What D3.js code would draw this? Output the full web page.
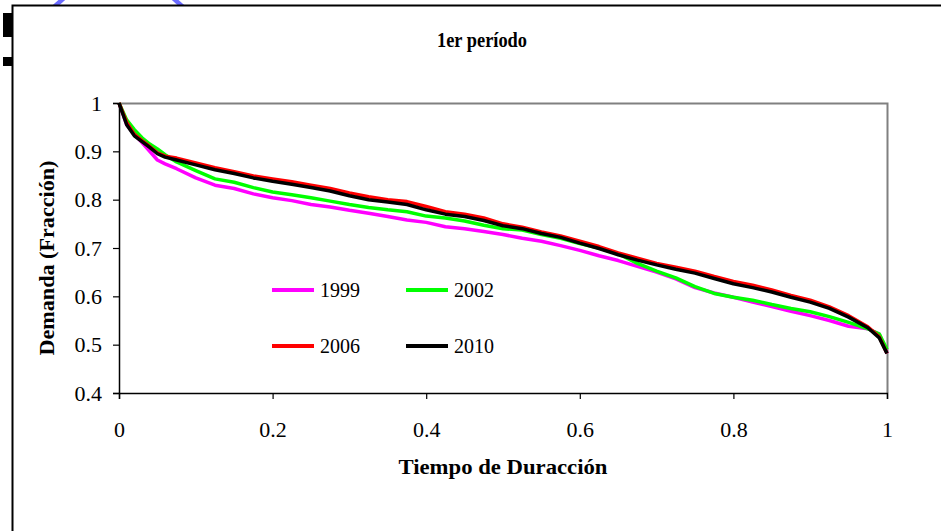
<!DOCTYPE html>
<html><head><meta charset="utf-8">
<script src="https://cdn.jsdelivr.net/npm/d3@7"></script>
<style>html,body{margin:0;padding:0;background:#fff;}svg{display:block;}
svg text{font-family:"Liberation Serif","Times New Roman",Tinos,"DejaVu Serif",serif;}</style>
</head><body>
<div id="chart"></div>
<script>
const title = "1er período";
const xTitle = "Tiempo de Duracción";
const yTitle = "Demanda (Fracción)";
const xTicks = [0, 0.2, 0.4, 0.6, 0.8, 1];
const yTicks = [0.4, 0.5, 0.6, 0.7, 0.8, 0.9, 1];
const t = [0,0.01,0.02,0.03,0.04,0.05,0.06,0.075,0.1,0.125,0.15,0.175,0.2,0.225,0.25,0.275,0.3,0.325,0.35,0.375,0.4,0.425,0.45,0.475,0.5,0.525,0.55,0.575,0.6,0.625,0.65,0.675,0.7,0.725,0.75,0.775,0.8,0.825,0.85,0.875,0.9,0.925,0.95,0.975,0.99,1];
const y1999 = [1.0,0.955,0.935,0.918,0.900,0.882,0.874,0.864,0.845,0.830,0.823,0.812,0.804,0.798,0.790,0.785,0.778,0.772,0.765,0.758,0.753,0.744,0.740,0.734,0.728,0.720,0.714,0.705,0.695,0.684,0.674,0.662,0.650,0.636,0.618,0.607,0.598,0.588,0.579,0.569,0.560,0.550,0.538,0.533,0.522,0.482];
const y2002 = [1.0,0.965,0.945,0.928,0.915,0.905,0.893,0.878,0.860,0.843,0.836,0.825,0.816,0.810,0.804,0.797,0.790,0.784,0.779,0.775,0.766,0.762,0.756,0.747,0.740,0.737,0.728,0.720,0.709,0.700,0.688,0.668,0.652,0.638,0.620,0.606,0.598,0.592,0.583,0.575,0.568,0.558,0.546,0.533,0.522,0.490];
const y2006 = [1.0,0.960,0.935,0.922,0.910,0.897,0.890,0.886,0.876,0.866,0.858,0.849,0.843,0.837,0.830,0.823,0.814,0.806,0.800,0.796,0.786,0.775,0.770,0.762,0.750,0.743,0.733,0.725,0.714,0.703,0.690,0.679,0.668,0.660,0.652,0.641,0.631,0.623,0.613,0.602,0.592,0.578,0.560,0.537,0.516,0.482];
const y2010 = [1.0,0.955,0.932,0.920,0.908,0.895,0.888,0.882,0.872,0.862,0.854,0.845,0.838,0.832,0.825,0.818,0.808,0.800,0.795,0.790,0.779,0.770,0.765,0.757,0.746,0.740,0.730,0.722,0.710,0.699,0.686,0.675,0.665,0.656,0.648,0.637,0.626,0.618,0.609,0.598,0.588,0.575,0.557,0.535,0.514,0.482];
const seriesNames = ["1999","2002","2006","2010"];
const seriesColors = ["#ff00ff","#00ff00","#ff0000","#000000"];
const seriesValues = [y1999, y2002, y2006, y2010];

const W = 941, H = 531;
const svg = d3.select("#chart").append("svg").attr("width", W).attr("height", H);

// decorations outside the frame
svg.append("path").attr("d","M64,-2 L54,7").attr("stroke","#6b6bff").attr("stroke-width",4.5).attr("fill","none");
svg.append("path").attr("d","M173,-2 L183,7").attr("stroke","#6b6bff").attr("stroke-width",4.5).attr("fill","none");
svg.append("rect").attr("x",3).attr("y",13).attr("width",9).attr("height",24).attr("fill","#000");
svg.append("rect").attr("x",3).attr("y",57).attr("width",9).attr("height",9).attr("fill","#000");
// outer frame
svg.append("rect").attr("x",12.5).attr("y",5.5).attr("width",W).attr("height",H).attr("fill","#fff").attr("stroke","#000").attr("stroke-width",2);

const L = 119, R = 887, T = 103, B = 393;
const x = d3.scaleLinear().domain([0,1]).range([L,R]);
const y = d3.scaleLinear().domain([0.4,1]).range([B,T]);

// plot box (top/right gray)
svg.append("path").attr("d",`M${L},${T+0.5} H${R+0.5} V${B}`).attr("stroke","#808080").attr("stroke-width",2).attr("fill","none");

const series = seriesNames.map((n,i)=>({name:n,color:seriesColors[i],pts:t.map((tv,j)=>[tv,seriesValues[i][j]])}));
const line = d3.line().x(d=>x(d[0])).y(d=>y(d[1]));
series.forEach(s=>{
  svg.append("path").datum(s.pts).attr("d",line).attr("fill","none").attr("stroke",s.color).attr("stroke-width",3.5).attr("stroke-linejoin","round");
});

// axes
const yAxis = d3.axisLeft(y).tickValues(yTicks).tickSize(6).tickPadding(11).tickFormat(d=>d3.format("")(d));
const gy = svg.append("g").attr("transform",`translate(${L},0)`).call(yAxis);
const xAxis = d3.axisBottom(x).tickValues(xTicks).tickSize(6).tickPadding(22).tickFormat(d=>d3.format("")(d));
const gx = svg.append("g").attr("transform",`translate(0,${B})`).call(xAxis);
[gx,gy].forEach(g=>{
  g.attr("font-family",null);
  g.select(".domain").attr("stroke","#000").attr("stroke-width",1.5);
  g.selectAll(".tick line").attr("stroke","#000").attr("stroke-width",1.2);
  g.selectAll("text").attr("font-size",22).attr("fill","#000");
});
gy.selectAll("text").attr("dy","0.32em");

// titles
svg.append("text").attr("x",482).attr("y",47).attr("text-anchor","middle").attr("font-weight","bold").attr("font-size",20).attr("textLength",90).attr("lengthAdjust","spacingAndGlyphs").text(title);
svg.append("text").attr("x",503).attr("y",474).attr("text-anchor","middle").attr("font-weight","bold").attr("font-size",20).attr("textLength",209).attr("lengthAdjust","spacingAndGlyphs").text(xTitle);
svg.append("text").attr("transform","translate(54,258) rotate(-90)").attr("text-anchor","middle").attr("font-weight","bold").attr("font-size",20).attr("textLength",195).attr("lengthAdjust","spacingAndGlyphs").text(yTitle);

// legend
const legPos = [[272,290],[406,290],[272,346],[406,346]];
series.forEach((s,i)=>{
  const [lx,ly] = legPos[i];
  svg.append("line").attr("x1",lx).attr("x2",lx+42).attr("y1",ly).attr("y2",ly).attr("stroke",s.color).attr("stroke-width",4);
  svg.append("text").attr("x",lx+48).attr("y",ly+7).attr("font-size",20).text(s.name);
});
</script>
</body></html>
